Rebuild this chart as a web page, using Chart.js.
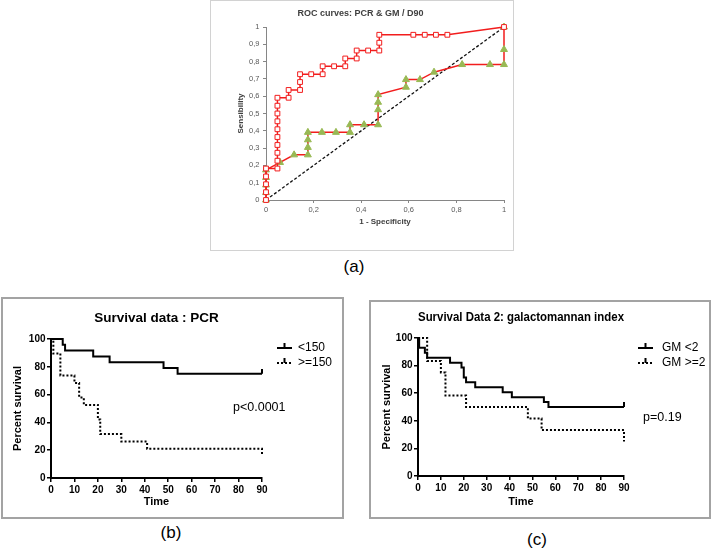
<!DOCTYPE html>
<html>
<head>
<meta charset="utf-8">
<script src="https://cdn.jsdelivr.net/npm/chart.js@4.4.1/dist/chart.umd.min.js"></script>
<style>
  body { margin: 0; background: #fff; width: 712px; height: 552px; position: relative; overflow: hidden;
         font-family: "Liberation Sans", Arial, sans-serif; }
  .box { position: absolute; box-sizing: border-box; }
  canvas { position: absolute; }
  .tag { position: absolute; font-size: 17px; color: #000; transform: translate(-50%, -50%); }
</style>
</head>
<body>
<div class="box" style="left:210px;top:0;width:304px;height:251px;border:1px solid #d2d2d2"></div>
<canvas id="roc" width="304" height="251" style="left:210px;top:0"></canvas>
<div class="tag" style="left:354px;top:267px">(a)</div>

<div class="box" style="left:1px;top:297px;width:343px;height:222px;border:2px solid #a3a3a3"></div>
<canvas id="kmPcr" width="343" height="222" style="left:1px;top:297px"></canvas>
<div class="tag" style="left:171px;top:533px">(b)</div>

<div class="box" style="left:369px;top:300px;width:342px;height:219px;border:2px solid #a3a3a3"></div>
<canvas id="kmGm" width="342" height="219" style="left:369px;top:300px"></canvas>
<div class="tag" style="left:537px;top:540px">(c)</div>

<script>
// ---- (a) ROC curves: 1 - specificity / sensitivity ----
const pcrFpr = [0, 0, 0, 0, 0, 0.048, 0.048, 0.048, 0.048, 0.048, 0.048, 0.048, 0.048, 0.048, 0.048,
  0.095, 0.095, 0.143, 0.143, 0.143, 0.190, 0.238, 0.238, 0.286, 0.333, 0.333, 0.381, 0.381, 0.429,
  0.476, 0.476, 0.476, 0.619, 0.667, 0.714, 0.762, 1];
const pcrTpr = [0, 0.045, 0.091, 0.136, 0.182, 0.182, 0.227, 0.273, 0.318, 0.364, 0.409, 0.455, 0.5, 0.545, 0.591,
  0.591, 0.636, 0.636, 0.682, 0.727, 0.727, 0.727, 0.773, 0.773, 0.773, 0.818, 0.818, 0.864, 0.864,
  0.864, 0.909, 0.955, 0.955, 0.955, 0.955, 0.955, 1];
const gmFpr = [0, 0, 0, 0, 0, 0.059, 0.118, 0.176, 0.176, 0.176, 0.176, 0.235, 0.294, 0.353, 0.353,
  0.412, 0.471, 0.471, 0.471, 0.471, 0.588, 0.588, 0.647, 0.706, 0.824, 0.941, 1, 1, 1];
const gmTpr = [0, 0.043, 0.087, 0.130, 0.174, 0.217, 0.261, 0.261, 0.304, 0.348, 0.391, 0.391, 0.391, 0.391, 0.435,
  0.435, 0.435, 0.522, 0.565, 0.609, 0.652, 0.696, 0.696, 0.739, 0.783, 0.783, 0.783, 0.870, 1];
const refX = [0, 1];
const refY = [0, 1];

// ---- (b) survival by PCR (time, percent survival) ----
const pcrGroups = ['<150', '>=150'];
const pcrLowT = [0, 5, 6, 18, 25, 48, 54, 90];
const pcrLowS = [100, 95.8, 91.7, 87.5, 83.3, 79.2, 75, 75];
const pcrLowCensT = [90];
const pcrLowCensS = [75];
const pcrHighT = [0, 1, 4, 10, 12, 14, 20, 21, 30, 41, 90];
const pcrHighS = [100, 89.5, 73.7, 68.4, 57.9, 52.6, 42.1, 31.6, 26.3, 21.1, 15.8];

// ---- (c) survival by galactomannan index ----
const gmGroups = ['GM <2', 'GM >=2'];
const gmLowT = [0, 0.5, 3, 4, 14, 19, 20, 21, 25, 37, 41, 55, 57, 90];
const gmLowS = [100, 92.9, 89.3, 85.7, 82.1, 78.6, 71.4, 67.9, 64.3, 60.7, 57.1, 53.6, 50, 50];
const gmLowCensT = [90];
const gmLowCensS = [50];
const gmHighT = [0, 4, 10, 12, 21, 48, 54, 90];
const gmHighS = [100, 83.3, 75, 58.3, 50, 41.7, 33.3, 25];

const SANS = '"Liberation Sans", Arial, sans-serif';
const RED = '#f21d1d';
const GREEN = '#98b954';
const xy = (xs, ys) => xs.map((x, i) => ({ x: x, y: ys[i] }));

// comma decimals like the Excel original
function fmtComma(v) {
  const r = Math.round(v * 10) / 10;
  return (r === 0 || r === 1) ? String(r) : r.toFixed(1).replace('.', ',');
}

// small censor tick that sits on top of the curve
function censorMark() {
  const c = document.createElement('canvas');
  c.width = 4; c.height = 10;
  const g = c.getContext('2d');
  g.fillStyle = '#000';
  g.fillRect(1, 0, 2, 5);
  return c;
}
const TICK = censorMark();

new Chart(document.getElementById('roc'), {
  type: 'scatter',
  data: {
    datasets: [
      { label: 'PCR', data: xy(pcrFpr, pcrTpr), showLine: true, borderColor: RED, borderWidth: 1.5,
        pointStyle: 'rect', pointRadius: 3.4, pointBackgroundColor: '#fff', pointBorderColor: RED,
        pointBorderWidth: 1, order: 0, clip: false },
      { label: 'GM', data: xy(gmFpr, gmTpr), showLine: true, borderColor: RED, borderWidth: 1.5,
        pointStyle: 'triangle', pointRadius: 4, pointBackgroundColor: GREEN, pointBorderColor: GREEN,
        pointBorderWidth: 1, order: 1, clip: false },
      { label: 'ref', data: xy(refX, refY), showLine: true, borderColor: '#111', borderWidth: 1.3,
        borderDash: [3, 2], pointRadius: 0, order: 2, clip: false }
    ]
  },
  options: {
    responsive: false, animation: false, devicePixelRatio: 1,
    layout: { padding: { left: 7, right: 10, top: 0, bottom: 0 } },
    plugins: {
      legend: { display: false },
      tooltip: { enabled: false },
      title: {
        display: true, text: 'ROC curves: PCR & GM / D90', color: '#404040',
        font: { family: SANS, size: 9, weight: 'bold', lineHeight: 1 },
        padding: { top: 9.5, bottom: 8.5 }
      }
    },
    scales: {
      x: {
        type: 'linear', min: 0, max: 1,
        afterFit: s => { s.height = 51; },
        border: { color: '#868686', width: 1 },
        grid: { drawOnChartArea: false, tickLength: 3, color: '#868686' },
        ticks: { stepSize: 0.2, padding: 2.5, maxRotation: 0, color: '#595959',
                 font: { family: SANS, size: 7.5 }, callback: fmtComma },
        title: { display: true, text: '1 - Specificity', color: '#404040',
                 font: { family: SANS, size: 8, weight: 'bold' }, padding: { top: 0, bottom: 24.2 } }
      },
      y: {
        min: 0, max: 1,
        afterFit: s => { s.width = 49; },
        border: { color: '#868686', width: 1 },
        grid: { drawOnChartArea: false, tickLength: 3, color: '#868686' },
        ticks: { stepSize: 0.1, padding: 3.5, color: '#595959',
                 font: { family: SANS, size: 7.5 }, callback: fmtComma },
        title: { display: true, text: 'Sensibility', color: '#404040',
                 font: { family: SANS, size: 8, weight: 'bold' }, padding: { top: 19, bottom: 0 } }
      }
    }
  }
});

// legend + p value for the survival panels
const kmDecor = {
  id: 'kmDecor',
  afterDraw(chart, args, o) {
    const ctx = chart.ctx;
    ctx.save();
    ctx.fillStyle = '#000';
    ctx.strokeStyle = '#000';
    ctx.textBaseline = 'middle';
    ctx.font = '12px ' + SANS;
    o.labels.forEach((txt, i) => {
      const y = o.rowY[i];
      ctx.lineWidth = 2;
      ctx.setLineDash(i === 0 ? [] : [2, 2]);
      ctx.beginPath();
      ctx.moveTo(o.lineX, y);
      ctx.lineTo(o.lineX + 15, y);
      ctx.stroke();
      ctx.setLineDash([]);
      ctx.drawImage(TICK, o.lineX + 5.5, y - 5);
      ctx.fillText(txt, o.textX, y);
    });
    ctx.font = '12.5px ' + SANS;
    ctx.fillText(o.pText, o.pX, o.pY);
    ctx.restore();
  }
};

function kmChart(id, lay, low, high, cens, deco) {
  const axisFont = { family: SANS, size: 10, weight: 'bold' };
  const titleFont = { family: SANS, size: 11, weight: 'bold' };
  new Chart(document.getElementById(id), {
    type: 'scatter',
    data: {
      datasets: [
        { data: cens, showLine: false, pointStyle: TICK, pointRadius: 3, clip: false },
        { data: low, showLine: true, stepped: true, borderColor: '#000', borderWidth: 2,
          pointRadius: 0, clip: false },
        { data: high, showLine: true, stepped: true, borderColor: '#000', borderWidth: 2,
          borderDash: [2, 2], pointRadius: 0, clip: false }
      ]
    },
    options: {
      responsive: false, animation: false, devicePixelRatio: 1,
      layout: { padding: { left: 0, right: lay.padRight, top: 0, bottom: 0 } },
      plugins: {
        legend: { display: false },
        tooltip: { enabled: false },
        title: {
          display: true, text: lay.title, color: '#000', fullSize: false,
          font: { family: SANS, size: 13.5, weight: 'bold', lineHeight: 1 },
          padding: { top: lay.titleTop, bottom: 14.25 }
        },
        kmDecor: deco
      },
      scales: {
        x: {
          type: 'linear', min: 0, max: 90,
          afterFit: s => { s.height = lay.xHeight; },
          border: { color: '#000', width: 2 },
          grid: { drawOnChartArea: false, tickLength: 4, color: '#000', lineWidth: 1.5 },
          ticks: { stepSize: 10, padding: 2, maxRotation: 0, color: '#000', font: axisFont },
          title: { display: true, text: 'Time', color: '#000', font: titleFont,
                   padding: { top: 0, bottom: lay.xTitleBottom } }
        },
        y: {
          min: 0, max: 100,
          afterFit: s => { s.width = lay.yWidth; },
          border: { color: '#000', width: 2 },
          grid: { drawOnChartArea: false, tickLength: 4, color: '#000', lineWidth: 1.5 },
          ticks: { stepSize: 20, padding: 1.5, color: '#000', font: axisFont },
          title: { display: true, text: 'Percent survival', color: '#000', font: titleFont,
                   padding: { top: lay.yTitleTop, bottom: 0 } }
        }
      }
    },
    plugins: [kmDecor]
  });
}

kmChart('kmPcr',
  { title: 'Survival data : PCR', titleTop: 14.25, padRight: 82, xHeight: 41, xTitleBottom: 10.4,
    yWidth: 50, yTitleTop: 10.7 },
  xy(pcrLowT, pcrLowS), xy(pcrHighT, pcrHighS), xy(pcrLowCensT, pcrLowCensS),
  { labels: pcrGroups, lineX: 276, textX: 297, rowY: [51, 66], pText: 'p<0.0001', pX: 232, pY: 111 });

kmChart('kmGm',
  { title: 'Survival Data 2: galactomannan index', titleTop: 10.25, padRight: 87, xHeight: 43,
    xTitleBottom: 10.7, yWidth: 49, yTitleTop: 11.1 },
  xy(gmLowT, gmLowS), xy(gmHighT, gmHighS), xy(gmLowCensT, gmLowCensS),
  { labels: gmGroups, lineX: 269, textX: 293, rowY: [48, 63], pText: 'p=0.19', pX: 274, pY: 118 });
</script>
</body>
</html>
